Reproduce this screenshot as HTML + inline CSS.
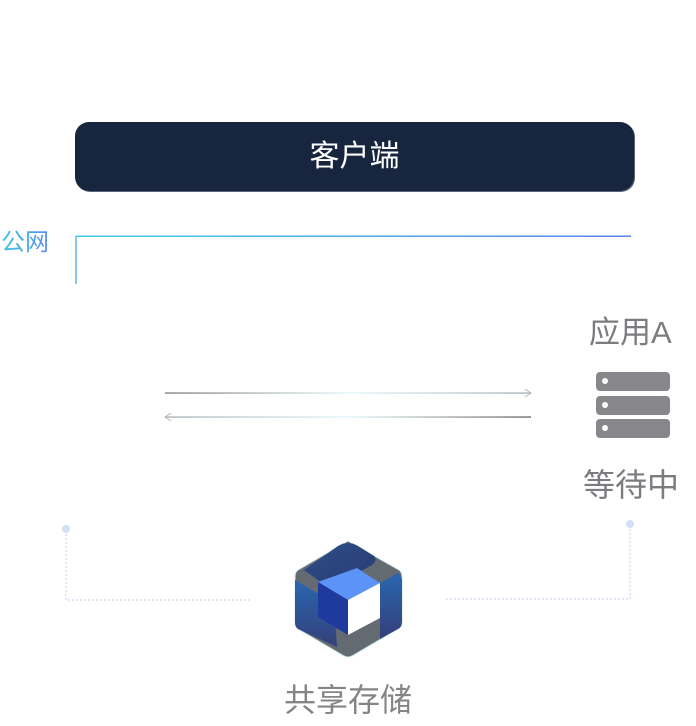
<!DOCTYPE html>
<html><head><meta charset="utf-8"><style>
body{margin:0;width:696px;height:726px;background:#fff;position:relative;overflow:hidden;font-family:"Liberation Sans","Noto Sans CJK SC",sans-serif}
.t{position:absolute;white-space:nowrap}
</style></head><body>
<div style="position:absolute;left:75px;top:122px;width:559px;height:69px;border-radius:14px;background:#17253f;box-shadow:1px 1px 0 #5a6478"></div>
<div class="t" style="left:75px;width:559px;top:137px;text-align:center;color:#fff;font-size:30px;line-height:40px">客户端</div>
<div class="t" style="left:1px;top:227px;font-size:24px;line-height:32px;background:linear-gradient(90deg,#3ec6e0,#5a8ef0);-webkit-background-clip:text;color:transparent">公网</div>
<svg width="696" height="726" style="position:absolute;left:0;top:0">
<defs>
<linearGradient id="g1" gradientUnits="userSpaceOnUse" x1="76" y1="0" x2="631" y2="0"><stop offset="0" stop-color="#3ed0e4"/><stop offset="1" stop-color="#5a84ee"/></linearGradient>
<linearGradient id="a1" gradientUnits="userSpaceOnUse" x1="165" y1="0" x2="531" y2="0"><stop offset="0" stop-color="#888"/><stop offset=".5" stop-color="#e8f6fa"/><stop offset="1" stop-color="#b0b8bc"/></linearGradient>
<linearGradient id="a2" gradientUnits="userSpaceOnUse" x1="165" y1="0" x2="531" y2="0"><stop offset="0" stop-color="#b0b8bc"/><stop offset=".5" stop-color="#e8f6fa"/><stop offset="1" stop-color="#777"/></linearGradient>
<linearGradient id="b1" x1="0" y1="0" x2="1" y2="1"><stop offset="0" stop-color="#2c4f8a"/><stop offset="1" stop-color="#2a3a70"/></linearGradient>
<linearGradient id="b2" x1="0" y1="0" x2="0" y2="1"><stop offset="0" stop-color="#2a66b0"/><stop offset="1" stop-color="#34407a"/></linearGradient>
</defs>
<rect x="76" y="235.5" width="555" height="1.5" fill="url(#g1)"/>
<line x1="76" y1="236" x2="76" y2="284" stroke="#5ab8ea" stroke-width="1.5"/>
<rect x="165" y="392.3" width="366" height="1.5" fill="url(#a1)"/>
<polyline points="525,389 531,393 525,397" fill="none" stroke="#b0b8bc" stroke-width="1"/>
<rect x="165" y="416.3" width="366" height="1.5" fill="url(#a2)"/>
<polyline points="171,413 165,417 171,421" fill="none" stroke="#b0b8bc" stroke-width="1"/>
<g fill="#86868b">
<rect x="596" y="372" width="74" height="19" rx="4"/><rect x="596" y="396" width="74" height="19" rx="4"/><rect x="596" y="419" width="74" height="19" rx="4"/>
</g>
<g fill="#fff"><circle cx="605" cy="381" r="3"/><circle cx="605" cy="405" r="3"/><circle cx="605" cy="428" r="3"/></g>
<g stroke="#d4def5" stroke-width="1.5" stroke-dasharray="2,2" fill="none">
<polyline points="66,530 66,600 250,600"/>
<polyline points="630,525 630,599 445,599"/>
</g>
<circle cx="66" cy="529" r="4" fill="#d4def5"/><circle cx="630" cy="524" r="4" fill="#d4def5"/>
<path d="M348,541 L399,570 Q402,572 402,577 L402,622 Q402,627 398,629 L352,656 Q348,658 344,656 L298,629 Q295,627 295,622 L295,577 Q295,572 298,570 Z" fill="#636a72" stroke="#cfe7ef" stroke-width="1"/>
<path d="M338,546 Q348,540 358,546 L374,556 Q378,560 372,565 L336,585 Q330,588 322,583 L304,570 Z" fill="url(#b1)"/>
<path d="M380,583 L398,573 Q402,576 402,580 L402,622 Q402,627 398,629 L380,639 Z" fill="url(#b2)"/>
<path d="M295,580 L334,603 L337,647 L298,629 Q295,627 295,622 Z" fill="url(#b2)"/>
<polygon points="318,582 357,568 380,583 348,600" fill="#5b93f8"/>
<polygon points="318,582 348,600 348,635 318,617" fill="#1e3a9e"/>
<polygon points="348,600 380,583 380,618 348,635" fill="#fff"/>
</svg>
<div class="t" style="left:589px;top:313px;font-size:31px;line-height:40px;color:#7c7c80">应用A</div>
<div class="t" style="left:583px;top:464px;font-size:32px;line-height:42px;color:#7c7c80">等待中</div>
<div class="t" style="left:248px;width:200px;text-align:center;top:679px;font-size:32px;line-height:42px;color:#858585">共享存储</div>
</body></html>
